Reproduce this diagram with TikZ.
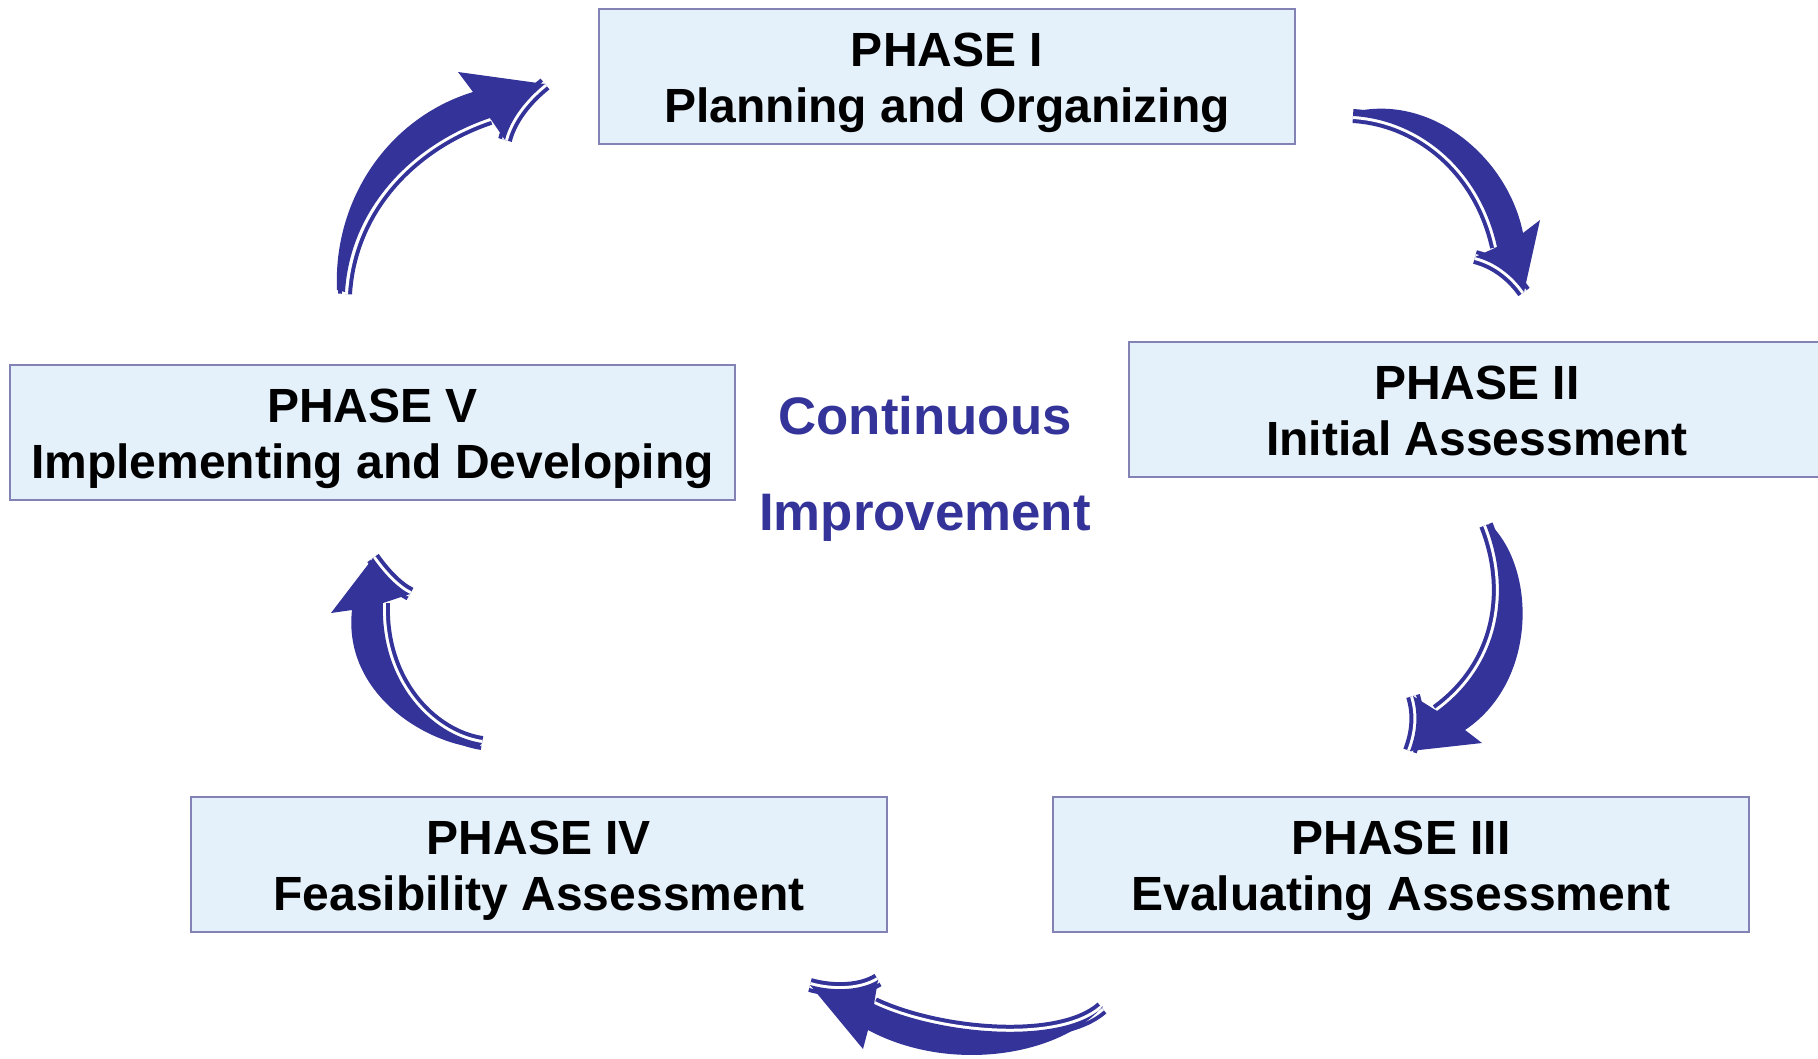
\documentclass[tikz,border=0pt]{standalone}
\usepackage{fontspec}
\setmainfont{Liberation Sans}
\usetikzlibrary{calc}
\definecolor{arrowblue}{RGB}{51,51,153}
\definecolor{boxfill}{RGB}{228,240,250}
\definecolor{boxline}{RGB}{130,130,180}
\begin{document}
\begin{tikzpicture}[x=1pt,y=-1pt,
  phasebox/.style={draw=boxline, line width=1.5pt, fill=boxfill, minimum width=696pt, minimum height=135pt, inner sep=0pt},
  phasetext/.style={anchor=base, font=\fontsize{48}{56}\selectfont\bfseries, inner sep=0pt},
  citext/.style={anchor=base, font=\fontsize{52.8}{60}\selectfont\bfseries, text=arrowblue, inner sep=0pt},
  arrowbody/.style={fill=arrowblue},
  sliver/.style={draw=arrowblue, line width=14pt, line cap=butt},
  gapline/.style={draw=white, line width=6pt, line cap=butt}]
\useasboundingbox (0,0) rectangle (1818,1058);
\clip (0,0) rectangle (1818,1058);

% boxes
\node[phasebox] (p1) at (947,76.5) {};
\node[phasetext] (p1a) at ($(p1.north)+(0,58)$) {PHASE I};
\node[phasetext] (p1b) at ($(p1.north)+(0,114)$) {Planning and Organizing};

\node[phasebox] (p2) at (1477,409.5) {};
\node[phasetext] (p2a) at ($(p2.north)+(0,58)$) {PHASE II};
\node[phasetext] (p2b) at ($(p2.north)+(0,114)$) {Initial Assessment};

\node[phasebox] (p3) at (1401,864.5) {};
\node[phasetext] (p3a) at ($(p3.north)+(0,58)$) {PHASE III};
\node[phasetext] (p3b) at ($(p3.north)+(0,114)$) {Evaluating Assessment};

\node[phasebox] (p4) at (539,864.5) {};
\node[phasetext] (p4a) at ($(p4.north)+(0,58)$) {PHASE IV};
\node[phasetext] (p4b) at ($(p4.north)+(0,114)$) {Feasibility Assessment};

\node[phasebox, minimum width=725pt] (p5) at (372.5,432.5) {};
\node[phasetext] (p5a) at ($(p5.north)+(0,58)$) {PHASE V};
\node[phasetext] (p5b) at ($(p5.north)+(0,114)$) {Implementing and Developing};

% centre text
\node[citext] (ci1) at (925,434) {Continuous};
\node[citext] (ci2) at (925,530) {Improvement};

% arrow V -> I
\draw[sliver] (490,118) .. controls (410,145) and (350,210) .. (345,294);
\draw[sliver] (545,84) .. controls (525,100) and (510,120) .. (505,140);
\draw[gapline] (490,118) .. controls (410,145) and (350,210) .. (345,294);
\draw[gapline] (545,84) .. controls (525,100) and (510,120) .. (505,140);
\fill[arrowbody] (337,290) .. controls (333,200) and (388,118) .. (473,92) -- (458,72) -- (545,84)
  .. controls (525,100) and (510,120) .. (505,140) -- (490,118)
  .. controls (410,145) and (350,210) .. (345,292) -- cycle;

% arrow I -> II
\draw[sliver] (1497,247) .. controls (1480,170) and (1420,120) .. (1353,116);
\draw[sliver] (1524,292) .. controls (1512,275) and (1495,262) .. (1475,257);
\draw[gapline] (1497,247) .. controls (1480,170) and (1420,120) .. (1353,116);
\draw[gapline] (1524,292) .. controls (1512,275) and (1495,262) .. (1475,257);
\fill[arrowbody] (1353,112) .. controls (1432,93) and (1508,158) .. (1523,233) -- (1540,220) -- (1524,292)
  .. controls (1512,275) and (1495,262) .. (1475,257) -- (1497,247)
  .. controls (1480,170) and (1420,120) .. (1353,116) -- cycle;

% arrow II -> III
\draw[sliver] (1437,711) .. controls (1500,665) and (1512,590) .. (1486,525);
\draw[sliver] (1410,751) .. controls (1418,730) and (1418,712) .. (1413,696);
\draw[gapline] (1437,711) .. controls (1500,665) and (1512,590) .. (1486,525);
\draw[gapline] (1410,751) .. controls (1418,730) and (1418,712) .. (1413,696);
\fill[arrowbody] (1490,524) .. controls (1537,570) and (1537,682) .. (1465,730) -- (1482,743) -- (1410,751)
  .. controls (1418,730) and (1418,712) .. (1413,696) -- (1437,711)
  .. controls (1500,665) and (1512,590) .. (1486,525) -- cycle;

% arrow III -> IV
\draw[sliver] (874,1004) .. controls (940,1035) and (1060,1045) .. (1102,1008);
\draw[sliver] (810,985) .. controls (835,992) and (862,990) .. (878,980);
\draw[gapline] (874,1004) .. controls (940,1035) and (1060,1045) .. (1102,1008);
\draw[gapline] (810,985) .. controls (835,992) and (862,990) .. (878,980);
\fill[arrowbody] (1103,1006) .. controls (1060,1056) and (950,1074) .. (868,1030) -- (863,1049) -- (810,985)
  .. controls (835,992) and (862,990) .. (878,980) -- (874,1004)
  .. controls (940,1035) and (1060,1045) .. (1102,1008) -- cycle;

% arrow IV -> V
\draw[sliver] (383,603) .. controls (380,680) and (430,735) .. (482,743);
\draw[sliver] (373,558) .. controls (385,575) and (398,588) .. (410,594);
\draw[gapline] (383,603) .. controls (380,680) and (430,735) .. (482,743);
\draw[gapline] (373,558) .. controls (385,575) and (398,588) .. (410,594);
\fill[arrowbody] (478,748) .. controls (420,742) and (343,690) .. (352,610) -- (331,613) -- (373,558)
  .. controls (385,575) and (398,588) .. (410,594) -- (383,603)
  .. controls (380,680) and (430,735) .. (482,743) -- cycle;
\end{tikzpicture}
\end{document}
